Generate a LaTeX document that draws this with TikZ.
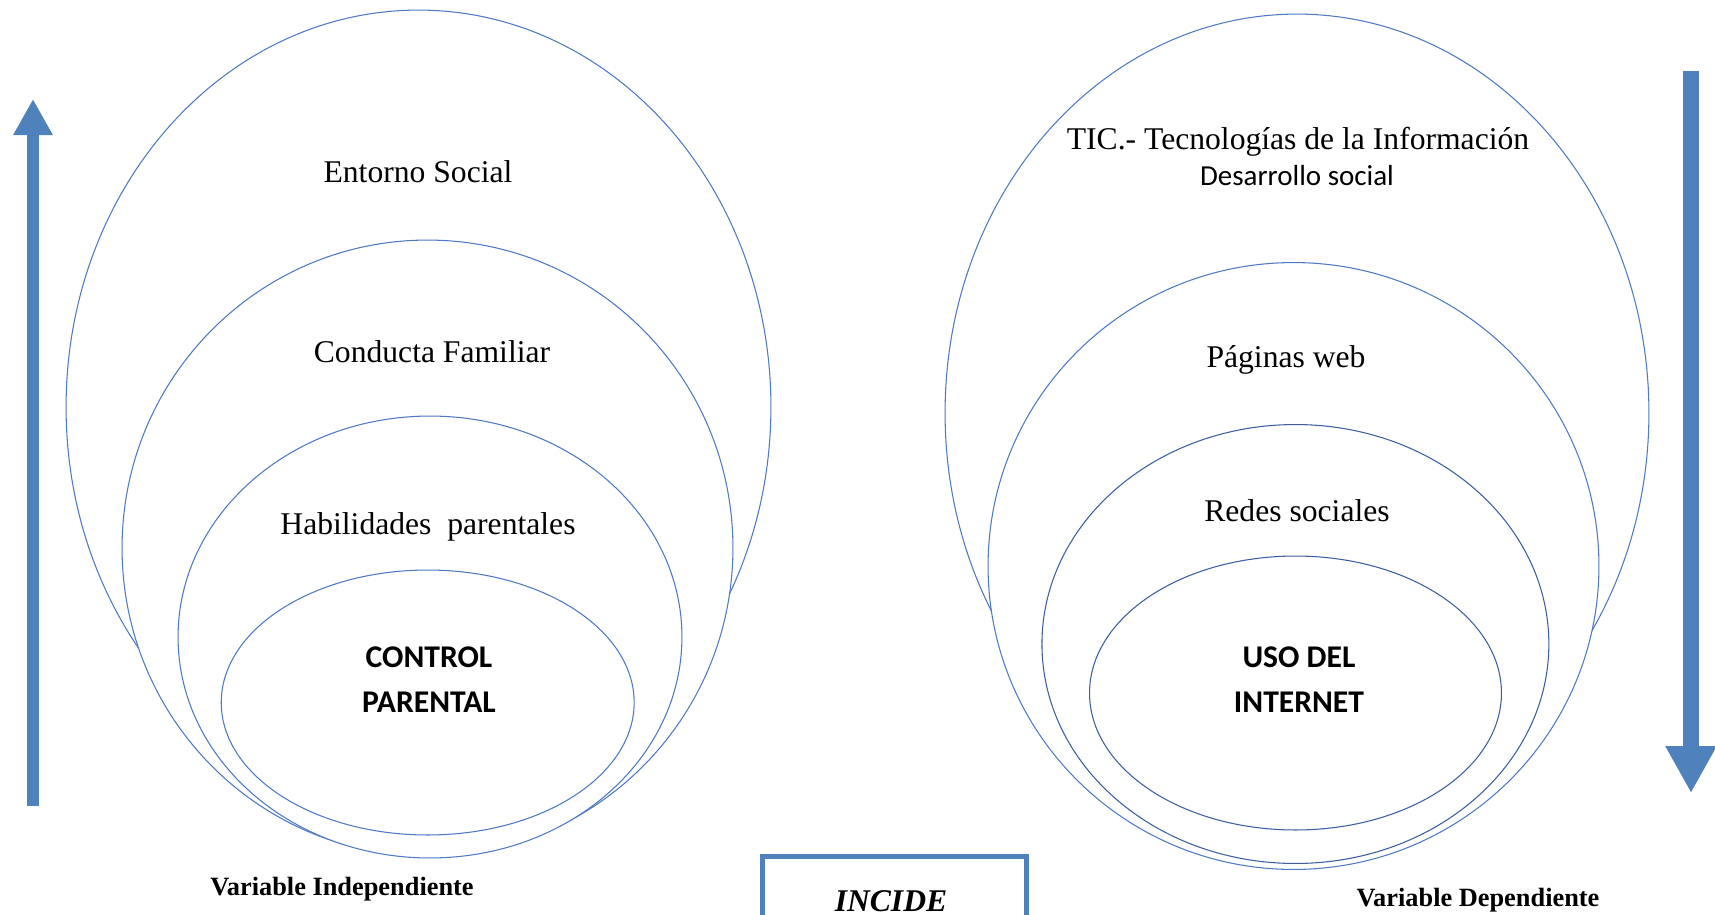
\documentclass[tikz,border=0pt]{standalone}
\usepackage{fontspec}
\setmainfont{Liberation Serif}
\newfontfamily\calibri{Carlito}
\usetikzlibrary{shapes.geometric,arrows.meta}
\definecolor{ringblue}{RGB}{78,121,195}
\definecolor{ringdark}{RGB}{58,94,158}
\definecolor{arrowblue}{RGB}{79,129,189}
\begin{document}
\begin{tikzpicture}[x=0.02cm,y=-0.02cm,
    ring/.style={draw=ringblue,line width=0.6pt,fill=white,ellipse,inner sep=0pt},
    ringd/.style={ring,draw=ringdark},
    txt/.style={font=\fontsize{18}{22}\selectfont},
    cal/.style={font=\calibri\fontsize{16.5}{20}\selectfont},
    core/.style={font=\calibri\bfseries\fontsize{18}{25.6}\selectfont,align=center},
    varlbl/.style={font=\bfseries\fontsize{15}{18}\selectfont}]
  \useasboundingbox (0,0) rectangle (1715,914);
  % left side
  \node[ring,minimum width=14.1cm,minimum height=15.88cm] (entorno) at (418.5,407) {};
  \node[ring,minimum width=12.22cm,minimum height=12.32cm] (conducta) at (427.5,548) {};
  \node[ring,minimum width=10.08cm,minimum height=8.84cm] (habil) at (430,637) {};
  \node[ring,minimum width=8.26cm,minimum height=5.3cm] (control) at (427.7,702.5) {};
  \node[txt] (t-entorno) at (418,172) {Entorno Social};
  \node[txt] (t-conducta) at (432,352) {Conducta Familiar};
  \node[txt] (t-habil) at (428,527) {Habilidades\ \ parentales};
  \node[core] (t-control) at (429,680) {CONTROL\\PARENTAL};
  % right side
  \node[ring,minimum width=14.08cm,minimum height=15.96cm] (tic) at (1297,413) {};
  \node[ring,minimum width=12.22cm,minimum height=12.14cm] (paginas) at (1293.5,566) {};
  \node[ringd,minimum width=10.14cm,minimum height=8.78cm] (redes) at (1295.4,644) {};
  \node[ringd,minimum width=8.24cm,minimum height=5.48cm] (uso) at (1295.5,693) {};
  \node[txt] (t-tic) at (1298,142) {TIC.- Tecnologías de la Información};
  \node[cal] (t-desarrollo) at (1297,176) {Desarrollo social};
  \node[txt] (t-paginas) at (1286,360) {Páginas web};
  \node[txt] (t-redes) at (1297,511) {Redes sociales};
  \node[core] (t-uso) at (1299,680) {USO DEL\\INTERNET};
  % labels
  \node[varlbl] (indep) at (342,889) {Variable Independiente};
  \node[varlbl] (dep) at (1478,900) {Variable Dependiente};
  \node[draw=arrowblue,line width=2.6pt,minimum width=5.28cm,minimum height=2cm,
        anchor=north west,inner sep=0pt] (incide) at (760,854) {};
  \node[font=\bfseries\itshape\fontsize{18}{22}\selectfont] (t-incide) at (891,901) {INCIDE};
  % arrows
  \coordinate (up-a) at (33,806);
  \coordinate (up-b) at (33,99);
  \coordinate (down-a) at (1691,71);
  \coordinate (down-b) at (1691,793);
  \draw[arrowblue,line width=0.24cm,-{Triangle[width=0.74cm,length=0.72cm]}] (up-a) -- (up-b);
  \draw[arrowblue,line width=0.32cm,-{Triangle[width=0.96cm,length=0.94cm]}] (down-a) -- (down-b);
\end{tikzpicture}
\end{document}
